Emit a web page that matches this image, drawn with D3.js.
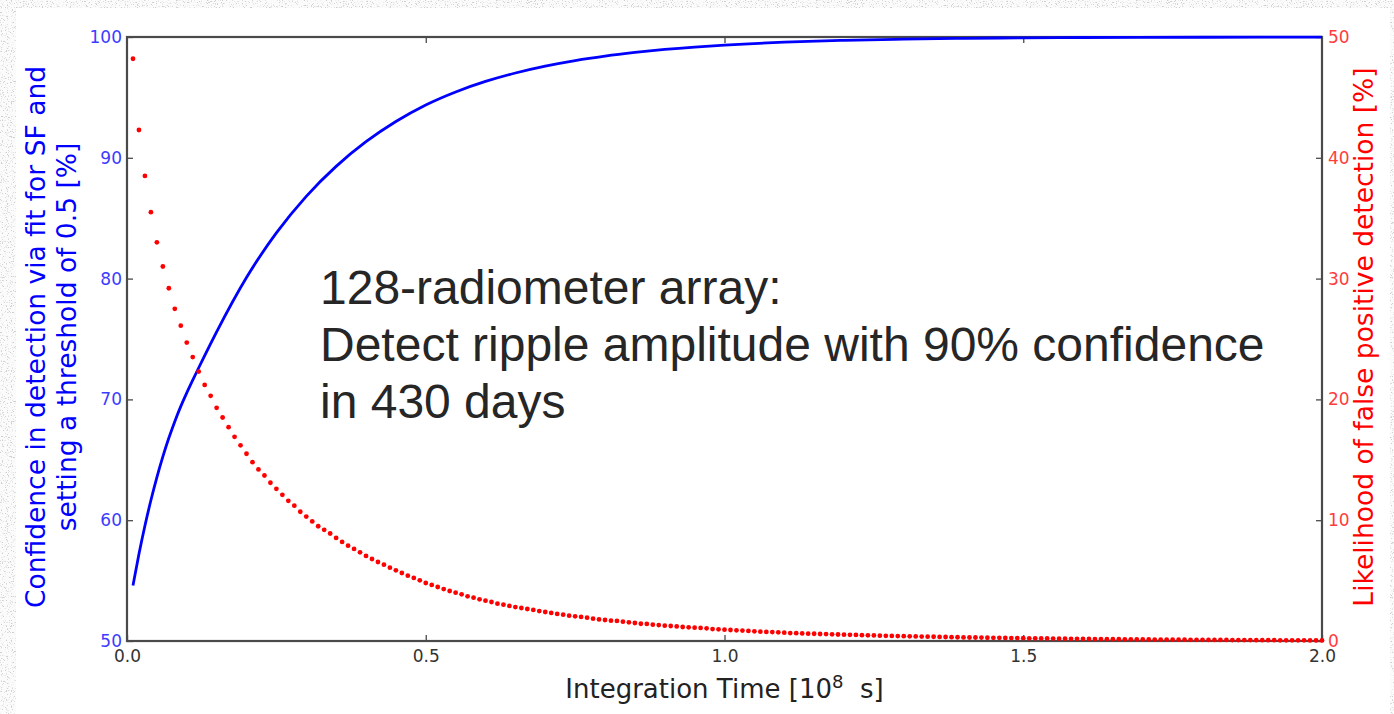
<!DOCTYPE html>
<html>
<head>
<meta charset="utf-8">
<script src="https://cdn.jsdelivr.net/npm/d3@7"></script>
<style>
  body { margin: 0; background: #fff; }
  svg { display: block; }
</style>
</head>
<body>
<script>
// temps d'intégration [1e8 s], un point rouge par valeur
const TIME = [
  0.01, 0.02, 0.03, 0.04, 0.05, 0.06, 0.07, 0.08, 0.09, 0.10,
  0.11, 0.12, 0.13, 0.14, 0.15, 0.16, 0.17, 0.18, 0.19, 0.20,
  0.21, 0.22, 0.23, 0.24, 0.25, 0.26, 0.27, 0.28, 0.29, 0.30,
  0.31, 0.32, 0.33, 0.34, 0.35, 0.36, 0.37, 0.38, 0.39, 0.40,
  0.41, 0.42, 0.43, 0.44, 0.45, 0.46, 0.47, 0.48, 0.49, 0.50,
  0.51, 0.52, 0.53, 0.54, 0.55, 0.56, 0.57, 0.58, 0.59, 0.60,
  0.61, 0.62, 0.63, 0.64, 0.65, 0.66, 0.67, 0.68, 0.69, 0.70,
  0.71, 0.72, 0.73, 0.74, 0.75, 0.76, 0.77, 0.78, 0.79, 0.80,
  0.81, 0.82, 0.83, 0.84, 0.85, 0.86, 0.87, 0.88, 0.89, 0.90,
  0.91, 0.92, 0.93, 0.94, 0.95, 0.96, 0.97, 0.98, 0.99, 1.00,
  1.01, 1.02, 1.03, 1.04, 1.05, 1.06, 1.07, 1.08, 1.09, 1.10,
  1.11, 1.12, 1.13, 1.14, 1.15, 1.16, 1.17, 1.18, 1.19, 1.20,
  1.21, 1.22, 1.23, 1.24, 1.25, 1.26, 1.27, 1.28, 1.29, 1.30,
  1.31, 1.32, 1.33, 1.34, 1.35, 1.36, 1.37, 1.38, 1.39, 1.40,
  1.41, 1.42, 1.43, 1.44, 1.45, 1.46, 1.47, 1.48, 1.49, 1.50,
  1.51, 1.52, 1.53, 1.54, 1.55, 1.56, 1.57, 1.58, 1.59, 1.60,
  1.61, 1.62, 1.63, 1.64, 1.65, 1.66, 1.67, 1.68, 1.69, 1.70,
  1.71, 1.72, 1.73, 1.74, 1.75, 1.76, 1.77, 1.78, 1.79, 1.80,
  1.81, 1.82, 1.83, 1.84, 1.85, 1.86, 1.87, 1.88, 1.89, 1.90,
  1.91, 1.92, 1.93, 1.94, 1.95, 1.96, 1.97, 1.98, 1.99, 2.00,
]

// probabilité de faux positif [%] (axe de droite)
const FALSE_POS = [
  48.2, 42.3, 38.5, 35.5, 33.0, 31.0, 29.2, 27.5, 26.1, 24.7,
  23.5, 22.3, 21.2, 20.3, 19.3, 18.5, 17.7, 16.9, 16.2, 15.5,
  14.8, 14.2, 13.7, 13.1, 12.6, 12.1, 11.6, 11.2, 10.7, 10.3,
  9.9, 9.5, 9.2, 8.9, 8.53, 8.20, 7.89, 7.62, 7.34, 7.04,
  6.79, 6.54, 6.32, 6.07, 5.85, 5.63, 5.41, 5.22, 5.02, 4.80,
  4.64, 4.47, 4.30, 4.14, 4.00, 3.86, 3.70, 3.59, 3.45, 3.34,
  3.23, 3.09, 3.01, 2.90, 2.81, 2.73, 2.65, 2.57, 2.48, 2.40,
  2.32, 2.24, 2.18, 2.10, 2.04, 1.99, 1.93, 1.85, 1.79, 1.74,
  1.68, 1.66, 1.60, 1.55, 1.49, 1.43, 1.41, 1.35, 1.32, 1.27,
  1.24, 1.21, 1.16, 1.13, 1.10, 1.08, 1.05, 0.99, 0.97, 0.94,
  0.91, 0.88, 0.86, 0.83, 0.80, 0.77, 0.75, 0.74, 0.72, 0.69,
  0.66, 0.65, 0.63, 0.61, 0.60, 0.58, 0.57, 0.55, 0.54, 0.52,
  0.51, 0.50, 0.48, 0.47, 0.46, 0.44, 0.43, 0.42, 0.41, 0.40,
  0.39, 0.38, 0.37, 0.36, 0.35, 0.34, 0.33, 0.32, 0.31, 0.30,
  0.29, 0.29, 0.28, 0.27, 0.26, 0.26, 0.25, 0.24, 0.24, 0.23,
  0.22, 0.22, 0.21, 0.21, 0.20, 0.19, 0.19, 0.18, 0.18, 0.17,
  0.17, 0.16, 0.16, 0.15, 0.15, 0.15, 0.14, 0.14, 0.13, 0.13,
  0.13, 0.12, 0.12, 0.12, 0.11, 0.11, 0.11, 0.10, 0.10, 0.10,
  0.09, 0.09, 0.09, 0.09, 0.08, 0.08, 0.08, 0.08, 0.07, 0.07,
  0.07, 0.07, 0.06, 0.06, 0.06, 0.06, 0.06, 0.05, 0.05, 0.05,
]

// confiance dans la détection [%] (axe de gauche), courbe bleue
const CONF_TIME = [0.01, 0.02, 0.03, 0.04, 0.05, 0.06, 0.07, 0.08, 0.09, 0.10,
  0.11, 0.12, 0.13, 0.14, 0.15, 0.20, 0.25, 0.30, 0.35, 0.40,
  0.45, 0.50, 0.55, 0.60, 0.65, 0.70, 0.75, 0.80, 0.85, 0.90,
  0.95, 1.00, 1.10, 1.20, 1.30, 1.40, 1.50, 1.60, 1.80, 2.00]
const CONF = [54.6, 57.2, 59.54, 61.65, 63.55, 65.26, 66.8, 68.18, 69.42, 70.54,
  71.59, 72.62, 73.63, 74.62, 75.59, 80.09, 83.78, 86.81, 89.29, 91.33,
  93.0, 94.37, 95.45, 96.32, 97.02, 97.59, 98.05, 98.42, 98.72, 98.97,
  99.17, 99.33, 99.57, 99.72, 99.82, 99.89, 99.93, 99.96, 99.98, 99.99]

// graduations
const X_TICKS = [0.0, 0.5, 1.0, 1.5, 2.0]
const LEFT_TICKS = [50, 60, 70, 80, 90, 100]
const RIGHT_TICKS = [0, 10, 20, 30, 40, 50]

// textes
const NOTE_LINES = [
  '128-radiometer array:',
  'Detect ripple amplitude with 90% confidence',
  'in 430 days',
]
const LEFT_TITLE = ['Confidence in detection via fit for SF and', 'setting a threshold of 0.5 [%]']
const RIGHT_TITLE = 'Likelihood of false positive detection [%]'

// dimensions
const WIDTH = 1394
const HEIGHT = 714
const PLOT = { left: 127, right: 1322, top: 37, bottom: 641 }

const BLUE = '#0000ff'
const RED = '#ff0000'
const BLUE_TEXT = '#3c3cff'
const RED_TEXT = '#ff3c3c'
const AXIS_GRAY = '#4a4a4a'
const FONT = "'DejaVu Sans', sans-serif"

const svg = d3.select('body')
  .append('svg')
  .attr('width', WIDTH)
  .attr('height', HEIGHT)

// fond moucheté de la diapositive
const defs = svg.append('defs')
const speckle = defs.append('filter')
  .attr('id', 'speckle')
  .attr('x', 0).attr('y', 0).attr('width', '100%').attr('height', '100%')
speckle.append('feTurbulence')
  .attr('type', 'fractalNoise')
  .attr('baseFrequency', 0.8)
  .attr('numOctaves', 2)
  .attr('seed', 7)
speckle.append('feColorMatrix')
  .attr('type', 'matrix')
  .attr('values', '0 0 0 0 0.62  0 0 0 0 0.62  0 0 0 0 0.62  -7 0 0 0 2.9')

svg.append('rect')
  .attr('width', WIDTH).attr('height', HEIGHT)
  .attr('fill', '#fbfbfb')
svg.append('rect')
  .attr('width', WIDTH).attr('height', HEIGHT)
  .attr('filter', 'url(#speckle)')
svg.append('rect')
  .attr('x', 16).attr('y', 8)
  .attr('width', 1374).attr('height', HEIGHT)
  .attr('fill', '#fff')

// échelles
const x = d3.scaleLinear().domain([0, 2]).range([PLOT.left, PLOT.right])
const yLeft = d3.scaleLinear().domain([50, 100]).range([PLOT.bottom, PLOT.top])
const yRight = d3.scaleLinear().domain([0, 50]).range([PLOT.bottom, PLOT.top])

// cadre
svg.append('rect')
  .attr('x', PLOT.left).attr('y', PLOT.top)
  .attr('width', PLOT.right - PLOT.left)
  .attr('height', PLOT.bottom - PLOT.top)
  .attr('fill', 'none')
  .attr('stroke', AXIS_GRAY)
  .attr('stroke-width', 2.2)

// axes, graduations vers l'intérieur
function styleAxis (g, color, size) {
  g.select('.domain').remove()
  g.selectAll('.tick line').attr('stroke', AXIS_GRAY).attr('stroke-width', 1.3)
  g.selectAll('.tick text')
    .attr('fill', color)
    .style('font-family', FONT)
    .style('font-size', size + 'px')
}

svg.append('g')
  .attr('transform', `translate(0,${PLOT.bottom})`)
  .call(d3.axisBottom(x).tickValues(X_TICKS).tickFormat(d3.format('.1f'))
    .tickSizeInner(-6).tickSizeOuter(0).tickPadding(9))
  .call(g => styleAxis(g, '#333', 17))

svg.append('g')
  .attr('transform', `translate(0,${PLOT.top})`)
  .call(d3.axisTop(x).tickValues(X_TICKS.slice(1, -1)).tickFormat('')
    .tickSizeInner(-6).tickSizeOuter(0))
  .call(g => styleAxis(g, '#333', 17))

svg.append('g')
  .attr('transform', `translate(${PLOT.left},0)`)
  .call(d3.axisLeft(yLeft).tickValues(LEFT_TICKS).tickFormat(d3.format('d'))
    .tickSizeInner(-6).tickSizeOuter(0).tickPadding(5))
  .call(g => styleAxis(g, BLUE_TEXT, 17))

svg.append('g')
  .attr('transform', `translate(${PLOT.right},0)`)
  .call(d3.axisRight(yRight).tickValues(RIGHT_TICKS).tickFormat(d3.format('d'))
    .tickSizeInner(-6).tickSizeOuter(0).tickPadding(6))
  .call(g => styleAxis(g, RED_TEXT, 17))

// courbe bleue
const line = d3.line()
  .x((d, i) => x(CONF_TIME[i]))
  .y(d => yLeft(d))
  .curve(d3.curveMonotoneX)

svg.append('path')
  .datum(CONF)
  .attr('d', line)
  .attr('fill', 'none')
  .attr('stroke', BLUE)
  .attr('stroke-width', 2.8)

// points rouges
svg.append('g')
  .selectAll('circle')
  .data(FALSE_POS)
  .enter()
  .append('circle')
  .attr('cx', (d, i) => x(TIME[i]))
  .attr('cy', d => yRight(d))
  .attr('r', 2.4)
  .attr('fill', RED)

// titres des axes
const xTitle = svg.append('text')
  .attr('x', (PLOT.left + PLOT.right) / 2)
  .attr('y', 698)
  .attr('text-anchor', 'middle')
  .attr('fill', '#222')
  .style('font-family', FONT)
  .style('font-size', '26px')
  .style('white-space', 'pre')
xTitle.append('tspan').text('Integration Time [10')
xTitle.append('tspan').attr('dy', -10).style('font-size', '18px').text('8')
xTitle.append('tspan').attr('dy', 10).text('  s]')

svg.append('g')
  .selectAll('text')
  .data(LEFT_TITLE)
  .enter()
  .append('text')
  .attr('transform', (d, i) => `translate(${45 + i * 31},337) rotate(-90)`)
  .attr('text-anchor', 'middle')
  .attr('fill', BLUE)
  .style('font-family', FONT)
  .style('font-size', '26.5px')
  .text(d => d)

svg.append('text')
  .attr('transform', 'translate(1373,337) rotate(-90)')
  .attr('text-anchor', 'middle')
  .attr('fill', RED)
  .style('font-family', FONT)
  .style('font-size', '26.5px')
  .text(RIGHT_TITLE)

// annotation
svg.append('g')
  .selectAll('text')
  .data(NOTE_LINES)
  .enter()
  .append('text')
  .attr('x', 320)
  .attr('y', (d, i) => 304 + i * 57)
  .attr('fill', '#262626')
  .style('font-family', "'Liberation Sans', Arial, sans-serif")
  .style('font-size', '48px')
  .text(d => d)
</script>
</body>
</html>
